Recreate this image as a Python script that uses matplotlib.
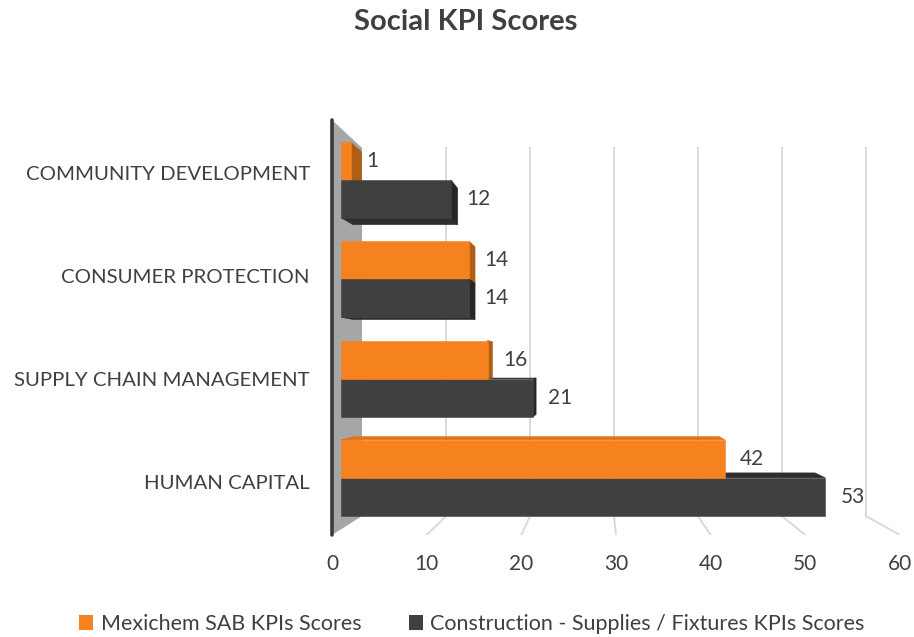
import matplotlib.pyplot as plt
from matplotlib.patches import Polygon, Patch

categories = ['HUMAN CAPITAL', 'SUPPLY CHAIN MANAGEMENT', 'CONSUMER PROTECTION', 'COMMUNITY DEVELOPMENT']
mexichem = [42, 16, 14, 1]
industry = [53, 21, 14, 12]
series_names = ['Mexichem SAB KPIs Scores', 'Construction - Supplies / Fixtures KPIs Scores']
x_ticks = [0, 10, 20, 30, 40, 50, 60]

plt.rcParams['font.family'] = ['Lato', 'DejaVu Sans']
TXT = '#404040'

# fake 3d look: everything recedes towards a vanishing point (data coords)
VP = (28.1, 1.116)
SHRINK = 0.1127          # how much the back wall is scaled down
Y0, Y1 = -0.515, 3.515   # floor / top of the walls
BAR_D = (0.316, 0.70)    # depth range of the bars (0 front, 1 back)
BAR_H = 0.383

def proj(v, y, d):
    s = 1 - SHRINK * d
    return (VP[0] + (v - VP[0]) * s, VP[1] + (y - VP[1]) * s)

def draw_box(ax, v, y0, y1, front, top, side):
    d0, d1 = BAR_D
    faces = []
    if y1 < VP[1]:
        faces.append(([(0, y1, d0), (v, y1, d0), (v, y1, d1), (0, y1, d1)], top))
    if y0 > VP[1]:
        faces.append(([(0, y0, d0), (v, y0, d0), (v, y0, d1), (0, y0, d1)], top))
    if v < VP[0]:
        faces.append(([(v, y0, d0), (v, y1, d0), (v, y1, d1), (v, y0, d1)], side))
    faces.append(([(0, y0, d0), (v, y0, d0), (v, y1, d0), (0, y1, d0)], front))
    for pts, c in faces:
        ax.add_patch(Polygon([proj(*p) for p in pts], closed=True, fc=c, ec=c, lw=0.4, zorder=3))


fig = plt.figure(figsize=(9.14, 6.37), dpi=100)
ax = fig.add_axes([332 / 914, 102 / 637, 568 / 914, 415 / 637])
ax.set_xlim(0, 60)
ax.set_ylim(Y0, Y1)
for s in ax.spines.values():
    s.set_visible(False)

# side wall
wall = [proj(0, Y0, 0), proj(0, Y1, 0), proj(0, Y1, 1), proj(0, Y0, 1)]
ax.add_patch(Polygon(wall, closed=True, fc='#a6a6a6', ec='none', zorder=1))
ax.plot([0, 0], [Y0, Y1], color='#3a3a3a', lw=2.6, solid_capstyle='round', zorder=5, clip_on=False)

# back wall + floor gridlines
for t in x_ticks[1:]:
    a, b = proj(t, Y0, 1), proj(t, Y1, 1)
    ax.plot([a[0], b[0]], [a[1], b[1]], color='#d9d9d9', lw=1.4, zorder=1)
    c = proj(t, Y0, 0)
    ax.plot([c[0], a[0]], [c[1], a[1]], color='#d9d9d9', lw=1.4, zorder=1)

# bars, far-from-vanishing-point first
bars = []
for i, cat in enumerate(categories):
    bars.append((mexichem[i], i, i + BAR_H, '#f5821f', '#e0741a', '#b05e14'))
    bars.append((industry[i], i - BAR_H, i, '#404040', '#2e2e2e', '#262626'))
bars.sort(key=lambda b: -abs((b[1] + b[2]) / 2 - VP[1]))
for v, y0, y1, fc, tc, sc in bars:
    draw_box(ax, v, y0, y1, fc, tc, sc)
    ax.annotate(str(v), proj(v, (y0 + y1) / 2, BAR_D[0]), xytext=(11, 0),
                textcoords='offset points', ha='left', va='center',
                fontsize=15, color=TXT, zorder=6)

ax.set_xticks(x_ticks)
ax.set_xticklabels([str(t) for t in x_ticks], fontsize=15, color=TXT)
ax.set_yticks(range(len(categories)))
ax.set_yticklabels(categories, fontsize=14.7, color=TXT)
ax.tick_params(axis='x', length=0, pad=14)
ax.tick_params(axis='y', length=0, pad=16)

fig.text(466 / 914, 1 - 22 / 637, 'Social KPI Scores', ha='center', va='center',
         fontsize=21, fontweight='bold', color=TXT)

handles = [Patch(fc='#f5821f', ec='none'), Patch(fc='#404040', ec='none')]
fig.legend(handles, series_names, loc='center', bbox_to_anchor=(472 / 914, 13 / 637),
           ncol=2, frameon=False, fontsize=15.5, handlelength=0.65, handleheight=0.65,
           handletextpad=0.35, columnspacing=2.2, labelcolor=TXT)

fig.savefig('out.png', dpi=100)
